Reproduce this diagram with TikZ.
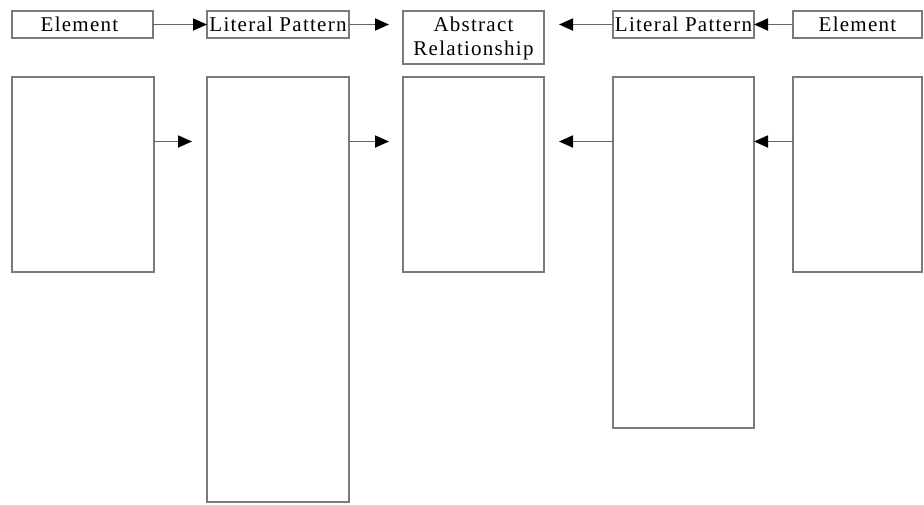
\documentclass[tikz,border=0pt]{standalone}
\usepackage{fontspec}
\setmainfont{Liberation Serif}[LetterSpace=6]
\usetikzlibrary{arrows.meta,calc}
\definecolor{boxline}{HTML}{7A7A7A}
\definecolor{arrline}{HTML}{666666}
\tikzset{
  box/.style={draw=boxline,line width=1.9pt,fill=white,inner sep=0pt,outer sep=0pt},
  lbl/.style={anchor=base,inner sep=0pt,font=\fontsize{21}{23.3}\selectfont},
  conn/.style={draw=arrline,line width=1.8pt,-{Triangle[length=14pt,width=12pt,black]}}
}
\begin{document}
\begin{tikzpicture}[x=1pt,y=-1pt]
\useasboundingbox (0,0) rectangle (924,504);
% header boxes
\node[box,minimum width=141pt,minimum height=27pt] (e1t) at (82.5,24.5) {};
\node[box,minimum width=142pt,minimum height=27pt] (l1t) at (278,24.5) {};
\node[box,minimum width=141pt,minimum height=53pt] (at) at (473.5,37.5) {};
\node[box,minimum width=141pt,minimum height=27pt] (l2t) at (683.5,24.5) {};
\node[box,minimum width=129pt,minimum height=27pt] (e2t) at (857.5,24.5) {};
% header texts
\node[lbl] (e1tx) at ($(e1t.south)+(-3,-6.3)$) {Element};
\node[lbl] (l1tx) at ($(l1t.south)+(0,-6.3)$) {Literal Pattern};
\node[lbl] (atx1) at ($(at.north)+(0,20.7)$) {Abstract};
\node[lbl] (atx2) at ($(at.north)+(0,44)$) {Relationship};
\node[lbl] (l2tx) at ($(l2t.south)+(0,-6.3)$) {Literal Pattern};
\node[lbl] (e2tx) at ($(e2t.south)+(0,-6.3)$) {Element};
% body boxes
\node[box,minimum width=142pt,minimum height=195pt] (e1b) at (83,174.5) {};
\node[box,minimum width=142pt,minimum height=425pt] (l1b) at (278,289.5) {};
\node[box,minimum width=141pt,minimum height=195pt] (ab) at (473.5,174.5) {};
\node[box,minimum width=141pt,minimum height=351pt] (l2b) at (683.5,252.5) {};
\node[box,minimum width=129pt,minimum height=195pt] (e2b) at (857.5,174.5) {};
% free ends and row
\coordinate (rowb) at (0,141.5);
\coordinate (t1) at (389,24.5);
\coordinate (t2) at (559,24.5);
\coordinate (b0) at (192,141.5);
\coordinate (b1) at (389,141.5);
\coordinate (b2) at (559,141.5);
% header connectors
\draw[conn] (e1t.east) -- (l1t.west);
\draw[conn] (l1t.east) -- (t1);
\draw[conn] (l2t.west) -- (t2);
\draw[conn] (e2t.west) -- (l2t.east);
% body connectors
\draw[conn] (e1b.east |- rowb) -- (b0);
\draw[conn] (l1b.east |- rowb) -- (b1);
\draw[conn] (l2b.west |- rowb) -- (b2);
\draw[conn] (e2b.west |- rowb) -- (l2b.east |- rowb);
\end{tikzpicture}
\end{document}
